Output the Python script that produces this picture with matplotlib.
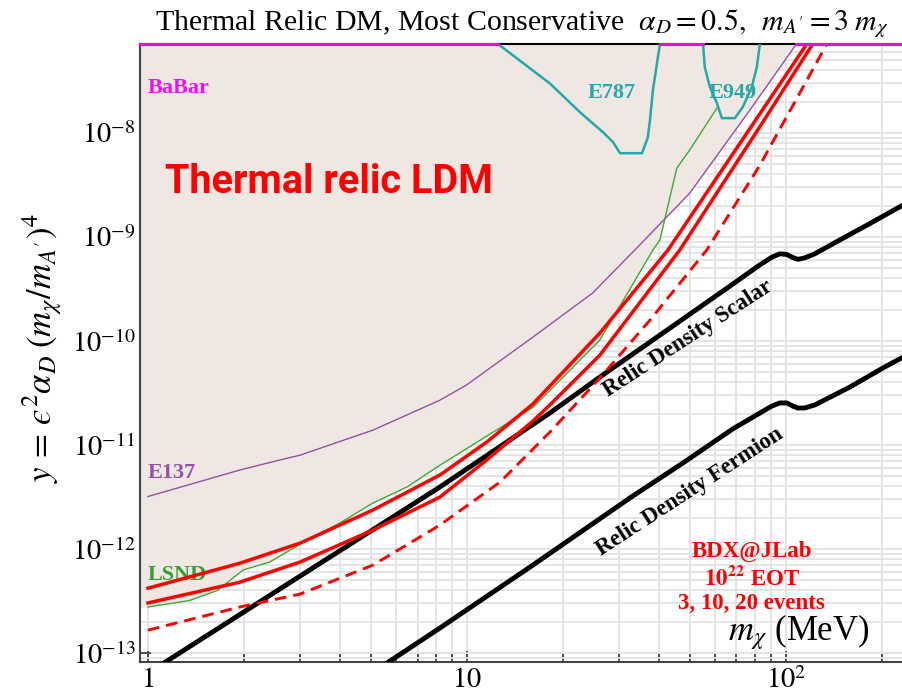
import numpy as np
import matplotlib
matplotlib.use('Agg')
import matplotlib.pyplot as plt
from matplotlib.ticker import FixedLocator, FixedFormatter, LogLocator

plt.rcParams['font.family'] = ['Liberation Serif', 'DejaVu Serif']
plt.rcParams['mathtext.fontset'] = 'stix'

# ---------------- data (m_chi in MeV, y) ----------------
scalar_m = [1.0, 3.0, 8.23, 18.2, 26.1, 53.8, 68.2, 82.9, 90.4, 95.8, 100.7, 105.1, 109.1,
            114.6, 123.3, 140.3, 179.5, 233]
scalar_y = [6.4e-14, 5.5e-13, 3.95e-12, 2.03e-11, 4.5e-11, 2.12e-10, 3.53e-10, 5.4e-10, 6.4e-10,
            6.9e-10, 6.8e-10, 6.35e-10, 6.1e-10, 6.3e-10, 6.9e-10, 8.6e-10, 1.30e-9, 2.03e-9]

fermion_m = [5.0, 5.61, 8.23, 15.76, 32.4, 47.5, 68.2, 82.9, 90.4, 95.8, 100.7, 105.1, 109.1,
             114.6, 123.3, 158.8, 201.4, 233]
fermion_y = [6.4e-14, 8.0e-14, 1.74e-13, 6.7e-13, 3.09e-12, 6.7e-12, 1.43e-11, 2.03e-11, 2.37e-11,
             2.54e-11, 2.54e-11, 2.37e-11, 2.27e-11, 2.27e-11, 2.43e-11, 3.61e-11, 5.5e-11, 7.0e-11]

bdx20_m = [1, 1.94, 3.0, 5.07, 8.23, 11.55, 16.1, 18.2, 26.1, 42.7, 75.5, 116.4]
bdx20_y = [4.2e-13, 7.3e-13, 1.14e-12, 2.37e-12, 5.15e-12, 1.07e-11, 2.48e-11, 3.69e-11,
           1.19e-10, 7.5e-10, 1.0e-8, 7.2e-8]

bdx10_m = [1, 1.94, 3.0, 5.07, 8.23, 11.55, 16.1, 18.2, 26.1, 46.5, 80.5, 121.5]
bdx10_y = [3.03e-13, 4.8e-13, 7.5e-13, 1.52e-12, 3.16e-12, 7.2e-12, 1.70e-11, 2.43e-11,
           7.3e-11, 7.5e-10, 1.0e-8, 7.2e-8]

bdx3_m = [1, 1.94, 3.0, 5.07, 8.23, 12.7, 18.2, 26.1, 37.5, 56.5, 82.9, 134.5]
bdx3_y = [1.66e-13, 2.77e-13, 3.69e-13, 7.0e-13, 1.70e-12, 4.4e-12, 1.33e-11, 4.4e-11,
          1.59e-10, 7.5e-10, 4.9e-9, 7.2e-8]

lsnd_m = [1, 1.35, 1.65, 1.99, 2.41, 3.15, 4.0, 5.07, 6.49, 8.23, 16.1, 26.1, 38.3, 40.3, 45.5, 50, 60.8]
lsnd_y = [2.77e-13, 3.2e-13, 4.0e-13, 6.3e-13, 7.5e-13, 1.22e-12, 1.78e-12, 2.77e-12, 3.95e-12,
          6.4e-12, 2.3e-11, 1.02e-10, 7.5e-10, 9.4e-10, 4.6e-9, 6.9e-9, 1.74e-8]

e137_m = [1, 1.94, 2.6, 3.0, 5.07, 8.23, 10, 16.1, 24.8, 33.6, 50, 77.1, 108]
e137_y = [3.2e-12, 5.75e-12, 7.2e-12, 8.0e-12, 1.39e-11, 2.7e-11, 3.8e-11, 1.09e-10, 2.9e-10,
          7.5e-10, 2.65e-9, 1.66e-8, 7.2e-8]

e787_m = [12.5, 18.2, 22.6, 26.7, 28.7, 30.2, 35.4, 36.9, 37.5, 38.3, 40.3]
e787_y = [7.2e-8, 3.0e-8, 1.59e-8, 1.02e-8, 8.2e-9, 6.4e-9, 6.4e-9, 9.0e-9, 1.33e-8, 2.6e-8, 7.2e-8]

e949_m = [55.0, 55.7, 57.8, 60.8, 63.0, 69.2, 73.3, 78.2, 81.1, 82.9]
e949_y = [7.2e-8, 4.3e-8, 2.77e-8, 1.94e-8, 1.39e-8, 1.39e-8, 1.78e-8, 2.77e-8, 4.3e-8, 7.2e-8]

babar_m = [0.944, 12.5, np.nan, 40.3, 55.0, np.nan, 108, 233]
babar_y = [7.18e-8, 7.18e-8, np.nan, 7.18e-8, 7.18e-8, np.nan, 7.18e-8, 7.18e-8]

x_ticks = [1, 10, 100]
x_ticklabels = [r'$1$', r'$10$', r'$10^{2}$']
y_ticks = [1e-13, 1e-12, 1e-11, 1e-10, 1e-9, 1e-8]
y_ticklabels = [r'$10^{-13}$', r'$10^{-12}$', r'$10^{-11}$', r'$10^{-10}$', r'$10^{-9}$', r'$10^{-8}$']

XMIN, XMAX = 0.944, 233
YMIN, YMAX = 8.2e-14, 7.18e-8

# ---------------- colours ----------------
C_SHADE = '#EFE7E1'
C_TEAL = '#25A8AA'
C_PURPLE = '#9650AA'
C_GREEN = '#3DAA33'
C_MAGENTA = '#E010E0'
C_RED = '#FF0000'

fig = plt.figure(figsize=(9.03, 6.95), dpi=100)
ax = fig.add_axes([140/903, 1-662/695, 763/903, 618/695])
ax.set_xscale('log')
ax.set_yscale('log')
ax.set_xlim(XMIN, XMAX)
ax.set_ylim(YMIN, YMAX)

# grid
ax.set_axisbelow(True)
ax.xaxis.set_minor_locator(LogLocator(base=10, subs=np.arange(2, 10)))
ax.yaxis.set_minor_locator(LogLocator(base=10, subs=np.arange(2, 10)))
ax.grid(which='both', color='#E2E2E2', lw=1.3)

# shaded excluded region
mg = np.logspace(np.log10(XMIN), np.log10(XMAX), 800)
lg_l = np.interp(np.log10(mg), np.log10(lsnd_m), np.log10(lsnd_y), right=np.inf)
lg_e = np.interp(np.log10(mg), np.log10(e137_m), np.log10(e137_y), right=np.log10(YMAX))
lower = 10**np.minimum(lg_l, lg_e)
ax.fill_between(mg, lower, YMAX, color=C_SHADE, lw=0, zorder=1)

# experiment lines
ax.plot(e137_m, e137_y, color=C_PURPLE, lw=1.0, zorder=3)
ax.plot(lsnd_m, lsnd_y, color=C_GREEN, lw=1.0, zorder=3)
ax.plot(e787_m, e787_y, color=C_TEAL, lw=1.8, zorder=3)
ax.plot(e949_m, e949_y, color=C_TEAL, lw=1.8, zorder=3)
ax.plot(babar_m, babar_y, color=C_MAGENTA, lw=2.2, zorder=6, clip_on=False)

# relic density lines
ax.plot(scalar_m, scalar_y, color='black', lw=3.5, zorder=4, solid_joinstyle='round')
ax.plot(fermion_m, fermion_y, color='black', lw=3.5, zorder=4, solid_joinstyle='round')

# BDX curves
ax.plot(bdx20_m, bdx20_y, color=C_RED, lw=2.5, zorder=5, solid_joinstyle='round')
ax.plot(bdx10_m, bdx10_y, color=C_RED, lw=2.5, zorder=5, solid_joinstyle='round')
ax.plot(bdx3_m, bdx3_y, color=C_RED, lw=2.1, ls=(0, (4, 2.4)), zorder=5)

# axes styling
ax.spines['right'].set_visible(False)
ax.spines['top'].set_color('black')
ax.spines['top'].set_linewidth(1.5)
for s in ['left', 'bottom']:
    ax.spines[s].set_color('#444444')
    ax.spines[s].set_linewidth(1.5)

ax.xaxis.set_major_locator(FixedLocator(x_ticks))
ax.xaxis.set_major_formatter(FixedFormatter(x_ticklabels))
ax.yaxis.set_major_locator(FixedLocator(y_ticks))
ax.yaxis.set_major_formatter(FixedFormatter(y_ticklabels))
ax.tick_params(which='both', direction='in', top=False, right=False, color='#333333', width=1.2)
ax.tick_params(which='major', length=8, labelsize=20.5)
ax.tick_params(axis='x', which='major', pad=4)
ax.tick_params(axis='y', which='major', pad=3)
ax.tick_params(axis='x', which='minor', length=6)
ax.tick_params(axis='y', which='minor', length=0)

# labels on the plot
LBL = 16
ax.text(1.0, 2.7e-8, 'BaBar', color='#F010F0', fontsize=LBL, fontweight='bold', ha='left', va='center')
ax.text(1.0, 10**-11.27, 'E137', color=C_PURPLE, fontsize=LBL, fontweight='bold', ha='left', va='center')
ax.text(1.0, 10**-12.25, 'LSND', color='#30A030', fontsize=LBL, fontweight='bold', ha='left', va='center')
ax.text(28.5, 10**-7.615, 'E787', color=C_TEAL, fontsize=LBL, fontweight='bold', ha='center', va='center')
ax.text(68.2, 10**-7.615, 'E949', color=C_TEAL, fontsize=LBL, fontweight='bold', ha='center', va='center')
ax.text(1.13, 10**-8.471, 'Thermal relic LDM', color=C_RED, fontsize=28.5, fontweight='bold',
        family=['Roboto', 'DejaVu Sans'], ha='left', va='center')
ax.text(49.3, 10**-9.971, 'Relic Density Scalar', color='black', fontsize=16.5, fontweight='bold',
        rotation=33, rotation_mode='anchor', ha='center', va='center')
ax.text(50, 10**-11.452, 'Relic Density Fermion', color='black', fontsize=16.5, fontweight='bold',
        rotation=33, rotation_mode='anchor', ha='center', va='center')
BDX = 16.5
ax.text(78.2, 10**-12.019, 'BDX@JLab', color=C_RED, fontsize=BDX, fontweight='bold', ha='center', va='center')
ax.text(78.2, 10**-12.279, r'$\mathbf{10^{22}}$ EOT', color=C_RED, fontsize=BDX, fontweight='bold', ha='center', va='center')
ax.text(78.2, 10**-12.519, '3, 10, 20 events', color=C_RED, fontsize=BDX, fontweight='bold', ha='center', va='center')
ax.text(0.864, 0.048, r'$m_\chi$ (MeV)', transform=ax.transAxes, fontsize=25, ha='center', va='center')

fig.text(42/903, 1-348/695, '$y\\,=\\,\u03f5^2\\alpha_D\\;(m_\\chi/m_{A^\\prime})^4$', rotation=90,
         fontsize=25, ha='center', va='center')
fig.text(522/903, 1-24/695,
         r'Thermal Relic DM, Most Conservative  $\alpha_D = 0.5,\;\; m_{A^\prime} = 3\; m_\chi$',
         fontsize=21.5, ha='center', va='center')

fig.savefig('out.png', dpi=100)
